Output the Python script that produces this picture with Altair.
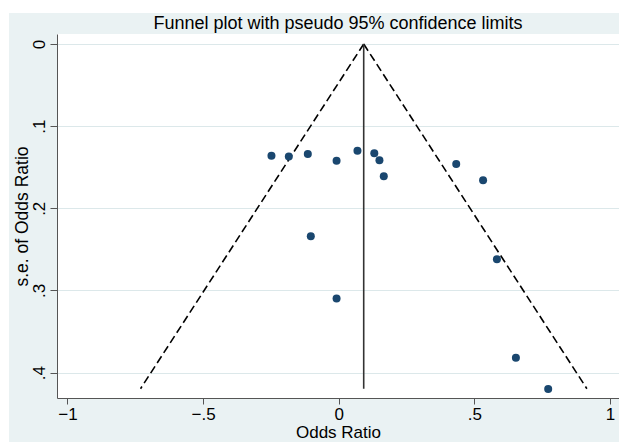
import altair as alt
import pandas as pd

# Study estimates (log odds ratio) and their standard errors
odds_ratio = [-0.248, -0.184, -0.114, -0.008, 0.069, 0.131, 0.150, 0.166,
              0.433, 0.532, -0.103, -0.008, 0.583, 0.653, 0.772]
se_odds = [0.136, 0.137, 0.134, 0.142, 0.130, 0.133, 0.1415, 0.161,
           0.146, 0.166, 0.234, 0.310, 0.262, 0.382, 0.420]

pooled = 0.092
se_max = 0.4197
z95 = 1.96

x_ticks = [-1, -0.5, 0, 0.5, 1]
y_ticks = [0, 0.1, 0.2, 0.3, 0.4]

FONT = "Liberation Sans"
BG = "#eaf2f3"

pts = pd.DataFrame({"or": odds_ratio, "se": se_odds})
funnel = pd.DataFrame({
    "or": [pooled, pooled - z95 * se_max, pooled, pooled + z95 * se_max],
    "se": [0, se_max, 0, se_max],
    "side": ["left", "left", "right", "right"],
})
center = pd.DataFrame({"or": [pooled], "se0": [0.0], "se1": [se_max]})
one = pd.DataFrame({"k": [0]})

label_expr = "replace(format(datum.value, '~g'), '0.', '.')"

xscale = alt.Scale(domain=[-1.0385, 1.033], nice=False, zero=False)
yscale = alt.Scale(domain=[-0.0122, 0.431], nice=False, zero=False, reverse=True)

xaxis = alt.Axis(
    title="Odds Ratio", values=x_ticks, labelExpr=label_expr, grid=False,
    domainColor="#555555", tickColor="#555555", tickSize=6,
    labelFont=FONT, labelFontSize=17, labelColor="black", labelPadding=2,
    titleFont=FONT, titleFontSize=17, titleFontWeight="normal", titleColor="black",
    titlePadding=2, labelFlush=False,
)
yaxis = alt.Axis(
    title="s.e. of Odds Ratio", values=y_ticks, labelExpr=label_expr, grid=True,
    gridColor="#dce8ea", gridWidth=1,
    domainColor="#555555", tickColor="#555555", tickSize=7,
    labelFont=FONT, labelFontSize=17, labelColor="black", labelAngle=270,
    labelAlign="center", labelBaseline="alphabetic", labelPadding=6,
    titleFont=FONT, titleFontSize=17.5, titleFontWeight="normal", titleColor="black",
    titlePadding=-1, labelFlush=False,
)

# white outer margin (top and left) of the original graph
strip_top = alt.Chart(one).mark_rect(color="white", clip=False).encode(
    x=alt.value(-57), x2=alt.value(562), y=alt.value(-34), y2=alt.value(-21))
strip_left = alt.Chart(one).mark_rect(color="white", clip=False).encode(
    x=alt.value(-57), x2=alt.value(-48), y=alt.value(-34), y2=alt.value(408))

lines = alt.Chart(funnel).mark_line(
    color="black", strokeDash=[8, 4], strokeWidth=1.6
).encode(
    x=alt.X("or:Q", scale=xscale, axis=xaxis),
    y=alt.Y("se:Q", scale=yscale, axis=yaxis),
    detail="side:N",
    order=alt.Order("se:Q"),
)

vline = alt.Chart(center).mark_rule(color="#333333", strokeWidth=1.6).encode(
    x=alt.X("or:Q", scale=xscale),
    y=alt.Y("se0:Q", scale=yscale),
    y2="se1:Q",
)

points = alt.Chart(pts).mark_circle(size=64, color="#1a476f", opacity=1).encode(
    x=alt.X("or:Q", scale=xscale),
    y=alt.Y("se:Q", scale=yscale),
)

chart = alt.layer(strip_top, strip_left, lines, vline, points).properties(
    width=562,
    height=364,
    padding={"left": 57, "top": 34, "right": 0, "bottom": 44},
    autosize=alt.AutoSizeParams(type="none"),
    title=alt.TitleParams(
        text="Funnel plot with pseudo 95% confidence limits",
        font=FONT, fontSize=18, fontWeight="normal", color="black",
        anchor="middle", frame="group", offset=-33,
    ),
).configure(background=BG).configure_view(fill="white", strokeWidth=0)

chart.save("out.html", embed_options={"renderer": "svg", "actions": False})
